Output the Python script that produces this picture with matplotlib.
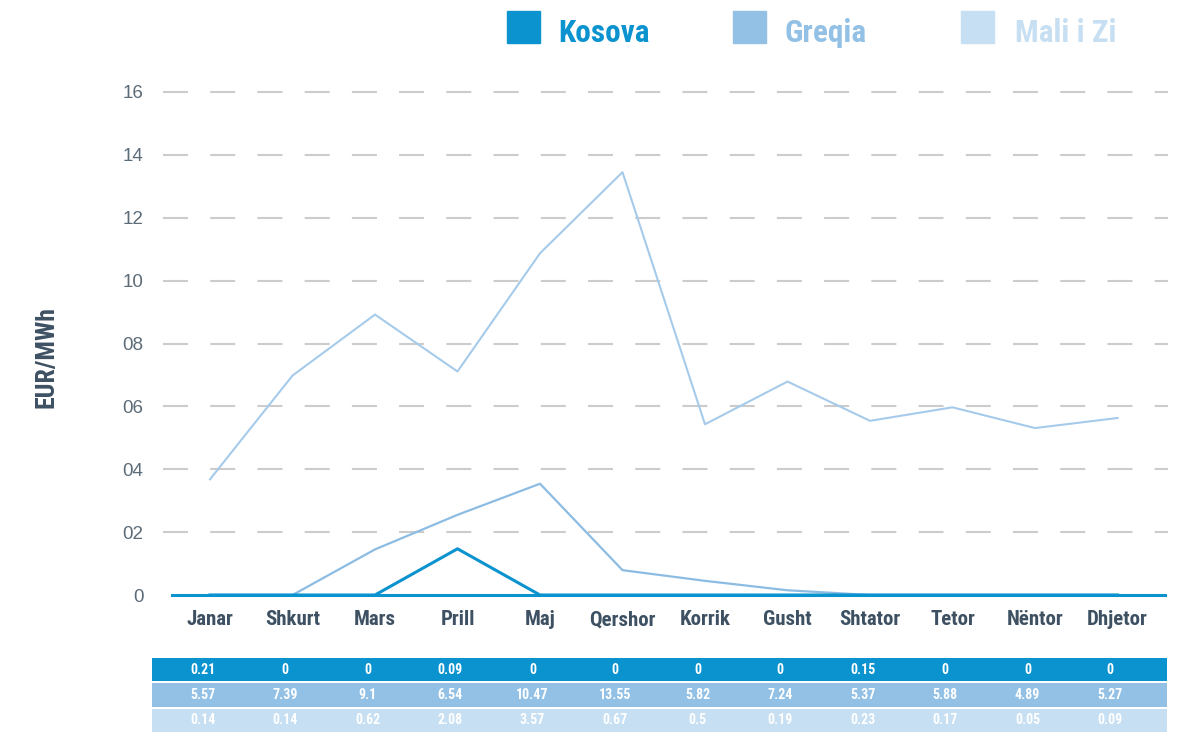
import matplotlib
matplotlib.use("Agg")
import matplotlib.pyplot as plt
import numpy as np

# ---------------- data ----------------
months = ["Janar", "Shkurt", "Mars", "Prill", "Maj", "Qershor", "Korrik",
          "Gusht", "Shtator", "Tetor", "Nëntor", "Dhjetor"]
series_names = ["Kosova", "Greqia", "Mali i Zi"]
kosova = [0, 0, 0, 1.47, 0, 0, 0, 0, 0, 0, 0, 0]
greqia = [3.68, 6.98, 8.92, 7.11, 10.87, 13.45, 5.43, 6.79, 5.54, 5.97, 5.31, 5.63]
mali_i_zi = [0, 0, 1.45, 2.55, 3.54, 0.79, 0.45, 0.15, 0, 0, 0, 0]
y_ticks = [0, 2, 4, 6, 8, 10, 12, 14, 16]
y_tick_labels = ["0", "02", "04", "06", "08", "10", "12", "14", "16"]
table_kosova = ["0.21", "0", "0", "0.09", "0", "0", "0", "0", "0.15", "0", "0", "0"]
table_greqia = ["5.57", "7.39", "9.1", "6.54", "10.47", "13.55", "5.82", "7.24",
                "5.37", "5.88", "4.89", "5.27"]
table_mali = ["0.14", "0.14", "0.62", "2.08", "3.57", "0.67", "0.5", "0.19",
              "0.23", "0.17", "0.05", "0.09"]

# ---------------- style ----------------
c_kos = "#0b93cf"
c_gre = "#93c1e5"
c_mal = "#c6dff2"
line_gre = "#a6cbea"
line_mal = "#8dbce3"
txt_dark = "#3e5163"
tick_col = "#5c6b78"
narrow = ["Roboto Condensed", "DejaVu Sans"]
regular = ["Liberation Sans", "DejaVu Sans"]
plt.rcParams["lines.scale_dashes"] = False

W, H = 1201, 735
fig = plt.figure(figsize=(W / 100, H / 100), dpi=100)

# pixel helpers for layout
x0_px, step_px = 210.0, 82.5
def idx_of(px):
    return (px - x0_px) / step_px

ax_l, ax_r = 163, 1168
ax_top, ax_bot = 92, 595
ax = fig.add_axes([ax_l / W, 1 - ax_bot / H, (ax_r - ax_l) / W, (ax_bot - ax_top) / H])
ax.set_xlim(idx_of(ax_l), idx_of(ax_r))
ax.set_ylim(0, 16)
for s in ax.spines.values():
    s.set_visible(False)

# dashed grid
for yv in y_ticks[1:]:
    ax.axhline(yv, color="#cccccc", lw=1.5, dashes=(18, 16), zorder=0, clip_on=False)

x = np.arange(len(months))
ax.plot(x, greqia, color=line_gre, lw=1.5, zorder=2)
ax.plot(x, mali_i_zi, color=line_mal, lw=1.6, zorder=3, clip_on=False)
# baseline
xl = ax.get_xlim()
ax.axhline(0, xmin=(idx_of(172) - xl[0]) / (xl[1] - xl[0]),
           xmax=(idx_of(1165) - xl[0]) / (xl[1] - xl[0]),
           color=c_kos, lw=2.2, zorder=4, clip_on=False)
ax.plot(x, kosova, color=c_kos, lw=2.2, zorder=5, clip_on=False)

ax.set_yticks(y_ticks)
ax.set_yticklabels(y_tick_labels, family=regular, fontsize=13.5, color=tick_col)
ax.tick_params(axis="y", length=0, pad=14)
ax.set_xticks(x)
ax.set_xticklabels(months, family=narrow, fontweight="bold", fontsize=15, color=txt_dark)
ax.tick_params(axis="x", length=0, pad=11)

fig.text(46 / W, 1 - 357 / H, "EUR/MWh", rotation=90, ha="center", va="center",
         family=narrow, fontweight="bold", fontsize=18.5, color=txt_dark)

# legend
leg_items = [(507, 558, c_kos), (733, 784, c_gre), (961, 1015, c_mal)]
for name, (sq_x, tx_x, col) in zip(series_names, leg_items):
    fig.patches.append(plt.Rectangle((sq_x / W, 1 - 43 / H), 33 / W, 32 / H,
                                     transform=fig.transFigure, color=col))
    fig.text(tx_x / W, 1 - 33 / H, name, ha="left", va="center", family=narrow,
             fontweight="bold", fontsize=22.5, color=col)

# table
t_l, t_r, t_top, t_bot = 152, 1167, 657, 733
axt = fig.add_axes([t_l / W, 1 - t_bot / H, (t_r - t_l) / W, (t_bot - t_top) / H])
axt.set_xlim(idx_of(t_l), idx_of(t_r))
axt.set_ylim(2.5, -0.5)
axt.axis("off")
rows = [table_kosova, table_greqia, table_mali]
row_cols = [c_kos, c_gre, c_mal]
for r, (vals, col) in enumerate(zip(rows, row_cols)):
    axt.barh(r, idx_of(t_r) - idx_of(t_l), left=idx_of(t_l), height=0.92, color=col)
    for i, v in enumerate(vals):
        axt.text(i - 0.09, r, v, ha="center", va="center", family=narrow,
                 fontweight="bold", fontsize=10, color="white")

fig.savefig("out.png", dpi=100, facecolor="white")
